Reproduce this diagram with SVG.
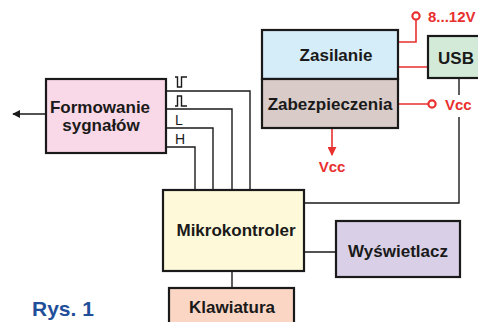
<svg xmlns="http://www.w3.org/2000/svg" width="478" height="322" viewBox="0 0 478 322">
<style>
.box{stroke:#1a1a1a;stroke-width:2.2}
.lbl{font-family:"Liberation Sans",Arial,sans-serif;font-weight:bold;font-size:17px;fill:#1a1a1a;text-anchor:middle}
.sm{font-family:"Liberation Sans",Arial,sans-serif;font-size:14px;fill:#1a1a1a}
.red{font-family:"Liberation Sans",Arial,sans-serif;font-weight:bold;font-size:15px;fill:#e8302f}
.w{fill:none;stroke:#1a1a1a;stroke-width:1.4}
.r{fill:none;stroke:#e8302f;stroke-width:1.6}
</style>
<defs>
<marker id="ab" viewBox="0 0 10 10" refX="9" refY="5" markerWidth="8" markerHeight="8" markerUnits="userSpaceOnUse" orient="auto"><path d="M0,0L10,5L0,10z" fill="#1a1a1a"/></marker>
<marker id="ar" viewBox="0 0 10 10" refX="9" refY="5" markerWidth="9" markerHeight="9" markerUnits="userSpaceOnUse" orient="auto"><path d="M0,0L10,5L0,10z" fill="#e8302f"/></marker>
</defs>
<rect width="478" height="322" fill="#fff"/>
<g id="connectors">
<path class="w" d="M46,114H13" marker-end="url(#ab)"/>
<path class="w" d="M166,91H250V190M166,109H232V190M166,128H213V190M166,147H195V190"/>
<path class="w" stroke-width="1.7" d="M175,77H177.5V87H181.5V77H187M175,106H177.5V96H181.5V106H187"/>
<path class="w" d="M304,203H459V117M459,95V79"/>
<path class="w" d="M304,252H336M232,271V288"/>
<path class="r" d="M398,42H416V20M398,67H428M398,104H428"/>
<circle cx="416" cy="16" r="3.6" fill="#fff" stroke="#e8302f" stroke-width="2.2"/>
<circle cx="432" cy="104" r="3.6" fill="#fff" stroke="#e8302f" stroke-width="2.2"/>
<path class="r" d="M332,129V155" marker-end="url(#ar)"/>
<text class="sm" x="175" y="125">L</text>
<text class="sm" x="175" y="144">H</text>
<text class="red" x="428" y="22">8...12V</text>
<text class="red" x="445" y="110">Vcc</text>
<text class="red" x="332" y="172" text-anchor="middle">Vcc</text>
</g>
<g id="formowanie"><rect class="box" x="46" y="79" width="120" height="74" fill="#f9d8e7"/><text class="lbl" x="100" y="113">Formowanie</text><text class="lbl" x="101" y="131">sygnałów</text></g>
<g id="zasilanie"><rect class="box" x="262" y="30" width="136" height="49" fill="#d5ecf9"/><text class="lbl" x="336" y="61">Zasilanie</text></g>
<g id="zabezpieczenia"><rect class="box" x="262" y="79" width="136" height="49" fill="#d8cbc8"/><text class="lbl" x="330" y="110">Zabezpieczenia</text></g>
<g id="usb"><rect class="box" x="428" y="36" width="56" height="42" fill="#d3ead9"/><text class="lbl" x="456" y="64">USB</text></g>
<g id="mikrokontroler"><rect class="box" x="163" y="190" width="141" height="81" fill="#fdf9d9"/><text class="lbl" x="236" y="236">Mikrokontroler</text></g>
<g id="wyswietlacz"><rect class="box" x="336" y="221" width="124" height="56" fill="#d9d0e7"/><text class="lbl" x="398" y="257">Wyświetlacz</text></g>
<g id="klawiatura"><rect class="box" x="169" y="288" width="125" height="40" fill="#fcd6c5"/><text class="lbl" x="232" y="313">Klawiatura</text></g>
<text x="32" y="316" font-family="'Liberation Sans',Arial,sans-serif" font-weight="bold" font-size="21" fill="#1f4f9b">Rys. 1</text>
</svg>
